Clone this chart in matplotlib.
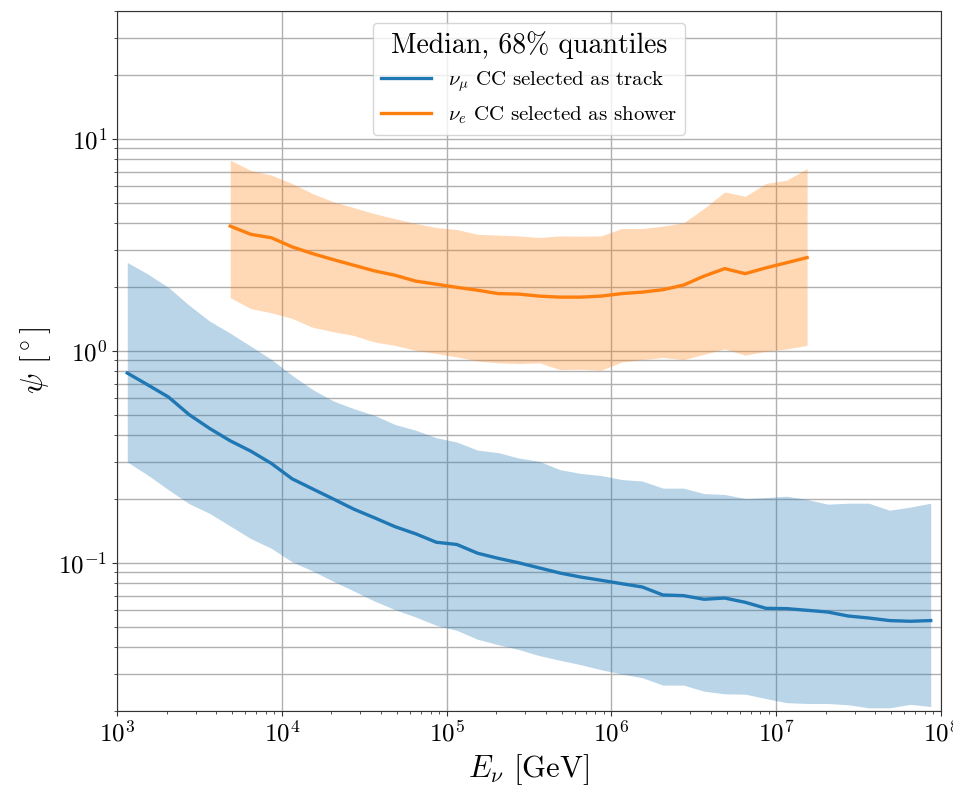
import numpy as np
import matplotlib
matplotlib.use("Agg")
import matplotlib.pyplot as plt

plt.rcParams['font.family'] = 'serif'
plt.rcParams['font.serif'] = ['cmr10', 'DejaVu Serif']
plt.rcParams['mathtext.fontset'] = 'cm'
plt.rcParams['axes.formatter.use_mathtext'] = True
plt.rcParams['axes.unicode_minus'] = False

# energy bins: 8 per decade from 1e3 to 1e8, bin centres
log_edges_per_decade = 8
e_numu = 10 ** (3 + (np.arange(40) + 0.5) / log_edges_per_decade)
e_nue = 10 ** (3 + (np.arange(5, 34) + 0.5) / log_edges_per_decade)

# nu_mu CC selected as track
numu_med = [0.785, 0.69, 0.605, 0.50, 0.43, 0.376, 0.336, 0.294, 0.249, 0.223,
            0.200, 0.179, 0.163, 0.148, 0.137, 0.125, 0.122, 0.111, 0.105, 0.100,
            0.0946, 0.0895, 0.0857, 0.0827, 0.0797, 0.0769, 0.0705, 0.070, 0.0673, 0.0682,
            0.0651, 0.061, 0.0608, 0.0597, 0.0586, 0.0561, 0.0549, 0.0534, 0.053, 0.0534]
numu_hi = [2.61, 2.30, 1.99, 1.64, 1.38, 1.21, 1.05, 0.91, 0.766, 0.656,
           0.58, 0.533, 0.496, 0.449, 0.422, 0.389, 0.371, 0.34, 0.331, 0.312,
           0.301, 0.275, 0.264, 0.258, 0.247, 0.243, 0.225, 0.225, 0.212, 0.21,
           0.201, 0.203, 0.206, 0.199, 0.189, 0.191, 0.191, 0.177, 0.183, 0.191]
numu_lo = [0.299, 0.259, 0.221, 0.19, 0.171, 0.149, 0.130, 0.117, 0.101, 0.0915,
           0.0818, 0.0736, 0.066, 0.0601, 0.0555, 0.0507, 0.048, 0.0436, 0.0411, 0.039,
           0.0365, 0.0347, 0.0331, 0.0313, 0.0299, 0.0287, 0.0265, 0.0265, 0.0248, 0.0241,
           0.024, 0.0229, 0.0219, 0.0217, 0.0217, 0.0214, 0.0207, 0.0207, 0.0215, 0.021]

# nu_e CC selected as shower
nue_med = [3.87, 3.54, 3.41, 3.09, 2.87, 2.69, 2.53, 2.38, 2.27, 2.13,
           2.06, 1.99, 1.93, 1.86, 1.85, 1.81, 1.79, 1.79, 1.81, 1.86,
           1.89, 1.94, 2.04, 2.25, 2.44, 2.31, 2.46, 2.60, 2.75]
nue_hi = [7.92, 7.08, 6.73, 6.15, 5.51, 5.04, 4.73, 4.43, 4.20, 3.98,
          3.81, 3.73, 3.54, 3.51, 3.48, 3.42, 3.48, 3.47, 3.48, 3.77,
          3.77, 3.87, 4.01, 4.69, 5.61, 5.35, 6.15, 6.37, 7.23]
nue_lo = [1.78, 1.58, 1.51, 1.42, 1.29, 1.23, 1.18, 1.10, 1.06, 1.005,
          0.97, 0.935, 0.895, 0.877, 0.87, 0.877, 0.815, 0.818, 0.809, 0.885,
          0.908, 0.929, 0.908, 0.963, 1.02, 0.953, 0.995, 1.02, 1.06]

fig = plt.figure(figsize=(9.54, 7.88), dpi=100)
ax = fig.add_axes([0.1226, 0.0977, 0.8638, 0.8883])

ax.fill_between(e_numu, numu_lo, numu_hi, color='C0', alpha=0.3, linewidth=0)
ax.plot(e_numu, numu_med, color='C0', lw=2.4, label=r'$\nu_\mu$ CC selected as track')
ax.fill_between(e_nue, nue_lo, nue_hi, color='C1', alpha=0.3, linewidth=0)
ax.plot(e_nue, nue_med, color='C1', lw=2.4, label=r'$\nu_e$ CC selected as shower')

ax.set_xscale('log')
ax.set_yscale('log')
ax.set_xlim(1e3, 1e8)
ax.set_ylim(0.02, 40)

ax.grid(True, which='major', axis='x', color='#b0b0b0', lw=1)
ax.grid(True, which='both', axis='y', color='#b0b0b0', lw=1)
ax.set_axisbelow(True)

for s in ax.spines.values():
    s.set_color('#333333')
ax.tick_params(which='both', colors='#333333', labelcolor='black', labelsize=18)

ax.set_xlabel(r'$E_\nu$ [GeV]', fontsize=22)
ax.set_ylabel(r'$\psi$ [$^\circ$]', fontsize=22)

leg = ax.legend(loc='upper center', title='Median, 68% quantiles', fontsize=15,
                title_fontsize=20, bbox_to_anchor=(0.5, 0.983), borderaxespad=0,
                handlelength=2.4)

fig.savefig('out.png', dpi=100)
